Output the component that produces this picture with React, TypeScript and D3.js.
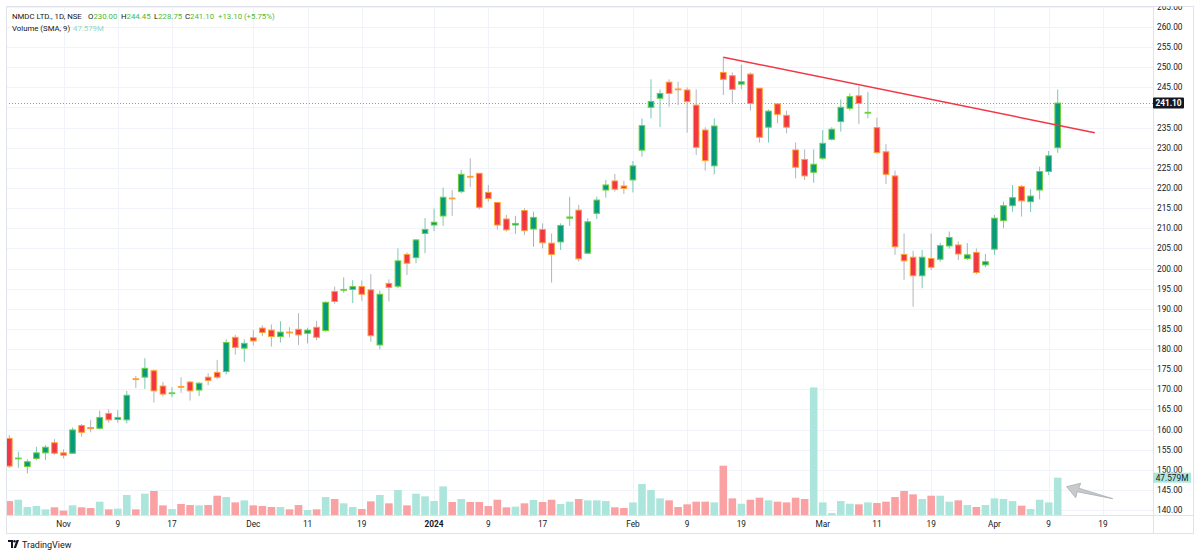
import React from "react";
import * as d3 from "d3";

// ---- Data (NMDC LTD., 1D, NSE) : bars from 23 Oct 2023 to 10 Apr 2024 ----
const openP = [
  157.8, 152.7, 150.8, 152.8, 154.2, 156.7, 154.2, 154.1, 161.0, 160.5,
  160.3, 164.0, 162.5, 162.4, 172.6, 173.0, 174.6, 170.8, 168.9, 170.7,
  171.8, 169.8, 173.0, 174.2, 174.4, 182.9, 180.2, 182.8, 185.2, 184.7,
  183.1, 184.2, 184.9, 183.9, 185.4, 184.6, 194.3, 194.6, 194.8, 195.5,
  194.7, 181.0, 196.3, 195.6, 203.5, 202.7, 208.7, 210.8, 213.05, 217.5,
  219.1, 222.9, 223.65, 218.9, 216.4, 212.3, 210.8, 214.4, 209.8, 209.7,
  206.3, 206.6, 212.5, 214.5, 203.8, 213.7, 219.5, 221.75, 220.5, 222.0,
  229.4, 240.05, 242.3, 246.3, 244.6, 244.35, 240.6, 234.4, 225.5, 248.7,
  247.9, 245.8, 248.3, 244.8, 235.1, 240.9, 238.05, 229.45, 227.1, 223.9,
  227.4, 232.1, 236.5, 239.8, 242.9, 238.6, 235.0, 229.0, 223.0, 203.5,
  202.8, 198.2, 202.5, 202.3, 205.6, 205.85, 202.5, 204.0, 200.9, 204.8,
  211.9, 215.6, 220.35, 216.6, 219.5, 224.1, 230.0,
];
const highP = [
  158.6, 154.5, 152.6, 155.7, 156.1, 157.6, 155.1, 160.5, 161.4, 162.4,
  164.7, 165.0, 164.8, 169.6, 173.3, 177.7, 174.9, 171.8, 170.5, 173.0,
  172.1, 171.8, 174.0, 177.3, 182.4, 183.5, 182.4, 184.7, 185.9, 186.1,
  186.9, 185.4, 188.9, 185.3, 187.0, 191.8, 195.5, 197.8, 197.1, 197.0,
  198.6, 194.5, 197.3, 205.0, 204.0, 207.3, 212.5, 214.9, 220.1, 219.5,
  224.5, 227.4, 223.65, 220.75, 216.4, 213.3, 213.1, 214.95, 214.1, 211.2,
  208.7, 211.2, 217.8, 215.8, 212.5, 217.85, 222.0, 223.5, 221.8, 226.7,
  237.3, 247.0, 244.5, 247.0, 246.4, 245.0, 244.5, 235.1, 237.3, 252.5,
  248.7, 250.6, 248.7, 244.8, 239.5, 240.9, 239.2, 231.3, 229.6, 229.6,
  234.4, 235.1, 242.0, 243.5, 245.3, 243.9, 237.5, 230.9, 224.3, 208.7,
  204.4, 204.6, 208.7, 206.4, 209.2, 206.7, 206.3, 205.0, 203.6, 213.3,
  216.6, 220.75, 220.75, 219.7, 225.3, 229.2, 244.45,
];
const lowP = [
  150.5, 150.5, 149.1, 152.4, 152.4, 153.7, 152.8, 153.9, 158.2, 159.3,
  160.0, 161.7, 161.7, 161.5, 170.3, 170.1, 166.7, 168.2, 168.0, 169.1,
  167.2, 168.3, 171.0, 172.5, 173.7, 178.6, 176.8, 180.9, 183.2, 180.6,
  181.6, 182.9, 181.0, 181.4, 182.2, 184.3, 191.2, 194.0, 191.4, 192.0,
  181.8, 179.9, 191.8, 195.1, 198.4, 201.3, 203.8, 209.3, 210.6, 213.05,
  218.7, 220.2, 214.7, 216.6, 209.7, 209.2, 208.6, 208.3, 205.4, 205.0,
  196.5, 204.6, 210.6, 201.7, 203.6, 212.3, 217.6, 219.1, 218.5, 218.9,
  227.8, 237.3, 235.1, 240.2, 240.6, 233.75, 228.2, 224.3, 223.4, 243.1,
  241.2, 244.6, 239.2, 231.3, 231.3, 236.1, 233.6, 222.4, 222.0, 221.3,
  227.0, 231.8, 234.0, 239.2, 235.9, 237.3, 228.5, 221.0, 203.4, 197.2,
  190.5, 195.1, 199.6, 201.7, 204.9, 202.1, 202.1, 198.6, 200.3, 203.4,
  210.0, 214.1, 212.9, 214.0, 217.2, 223.2, 228.75,
];
const closeP = [
  150.9, 152.9, 152.0, 154.2, 155.6, 154.1, 153.6, 159.9, 159.3, 160.2,
  163.0, 162.4, 163.0, 168.5, 172.4, 175.2, 169.6, 168.8, 169.1, 170.5,
  169.6, 171.5, 172.2, 173.0, 181.6, 180.4, 181.4, 182.0, 184.1, 183.1,
  184.2, 184.0, 183.5, 184.7, 182.9, 191.6, 191.8, 194.8, 195.5, 193.6,
  183.3, 193.6, 195.3, 201.9, 201.3, 207.1, 209.7, 211.5, 217.7, 217.3,
  223.4, 222.7, 215.2, 217.4, 210.8, 209.6, 211.2, 209.4, 212.7, 206.4,
  203.5, 210.7, 212.8, 202.4, 211.6, 217.0, 220.75, 219.7, 219.9, 225.5,
  235.5, 241.5, 243.5, 243.5, 244.4, 241.45, 230.1, 226.8, 235.4, 247.0,
  244.5, 246.4, 241.0, 232.6, 239.1, 238.3, 235.1, 225.15, 223.0, 225.9,
  231.1, 234.6, 240.05, 242.7, 241.0, 238.8, 228.8, 223.4, 205.4, 201.9,
  198.2, 202.8, 200.3, 205.7, 207.7, 203.6, 203.4, 199.0, 201.7, 212.5,
  215.6, 217.6, 216.8, 218.0, 224.1, 228.0, 241.1,
];
// volume in millions of shares
const volumeM = [
  17.8, 19.5, 10.2, 11.5, 7.2, 9.8, 5.5, 12.3, 9.8, 8.9,
  17.0, 7.2, 8.1, 25.5, 7.2, 27.2, 30.6, 12.3, 7.6, 14.0,
  12.7, 12.3, 12.7, 24.6, 22.9, 16.1, 18.7, 12.3, 11.5, 10.2,
  10.2, 7.2, 12.7, 6.4, 7.2, 22.9, 20.4, 14.9, 10.2, 7.6,
  17.4, 25.5, 14.9, 31.9, 12.3, 27.2, 23.8, 17.8, 36.5, 16.6,
  20.4, 16.6, 16.6, 11.5, 19.5, 9.8, 10.6, 14.9, 19.1, 16.6,
  19.5, 14.0, 17.0, 20.4, 18.7, 18.7, 17.8, 9.8, 8.9, 16.1,
  39.5, 31.9, 21.2, 18.7, 10.2, 13.6, 17.0, 17.0, 16.1, 62.9,
  21.2, 14.4, 19.5, 22.1, 18.7, 17.0, 16.1, 22.1, 20.4, 162.7,
  16.1, 2.5, 17.8, 14.4, 13.6, 16.1, 15.3, 17.0, 22.9, 30.6,
  26.3, 20.4, 24.6, 24.6, 17.0, 18.7, 12.7, 10.2, 12.7, 21.2,
  20.4, 17.8, 11.9, 7.6, 19.5, 16.1, 47.579,
];

// time axis labels: bar index -> label
const tickIndex = [6, 12, 18, 27, 33, 39, 47, 53, 59, 69, 75, 81, 90, 96, 102, 109, 115, 121];
const tickLabel = ["Nov", "9", "17", "Dec", "11", "19", "2024", "9", "17", "Feb", "9", "19", "Mar", "11", "19", "Apr", "9", "19"];

// price axis levels
const priceTicks = d3.range(140, 266, 5);

// trend line (bar index, price)
const trendIdx = [79, 120.1];
const trendPrice = [252.5, 233.75];

const lastPrice = 241.1;
const lastVolume = 47.579;

// ---- Layout ----
const W = 1200;
const H = 556;
const plotLeft = 6;
const plotRight = 1153;
const plotTop = 6;
const plotBottom = 515;
const frameRight = 1193;
const frameBottom = 533;

const FONT = "Roboto, 'Noto Sans', Arial, sans-serif";
const UP = "#089981";
const UP_BORDER = "#6fd13a";
const UP_WICK = "#7cc7b4";
const DOWN = "#f23645";
const DOWN_BORDER = "#ffa033";
const DOWN_WICK = "#b2b5be";
const VOL_UP = "#ace5dc";
const VOL_DOWN = "#faa1a4";
const GRID = "#f0f3fa";
const TEXT = "#131722";
const LEG_GREEN = "#4fb834";

export default function App() {
  const x = d3.scaleLinear().domain([0, 116]).range([9.3, 9.3 + 116 * 9.038]);
  const y = d3.scaleLinear().domain([140, 260]).range([510, 27]);
  const yv = d3.scaleLinear().domain([0, lastVolume]).range([plotBottom, 477.7]);

  const bars = openP.map((o, i) => ({
    i,
    o,
    h: highP[i],
    l: lowP[i],
    c: closeP[i],
    v: volumeM[i],
    up: closeP[i] >= o,
  }));

  const trendLine = d3
    .line<number>()
    .x((d, k) => x(trendIdx[k]))
    .y((d) => y(d))(trendPrice);

  const bodyW = 5.6;
  const volW = 7.6;

  const lastX = x(bars.length - 1);
  const ax = lastX + 9;
  const ay = yv(lastVolume) + 9;
  const arrowPts = [
    [ax, ay],
    [ax + 14, ay - 3.5],
    [ax + 12, ay + 1.5],
    [ax + 46, ay + 12],
    [ax + 10.5, ay + 5],
    [ax + 9, ay + 11],
  ]
    .map((p) => p.join(","))
    .join(" ");

  // price labels hidden behind the last-price box are not drawn
  const visibleTicks = priceTicks.filter((p) => Math.abs(y(p) - y(lastPrice)) > 8);

  return (
    <svg width={W} height={H} style={{ display: "block", position: "absolute", left: 0, top: 0, background: "#fff" }} fontFamily={FONT}>
      <defs>
        <clipPath id="plot">
          <rect x={plotLeft} y={plotTop} width={plotRight - plotLeft} height={plotBottom - plotTop} />
        </clipPath>
        <clipPath id="axisClip">
          <rect x={plotRight} y={plotTop + 0.5} width={frameRight - plotRight} height={plotBottom - plotTop} />
        </clipPath>
      </defs>
      <rect x={0} y={0} width={W} height={H} fill="#fff" />

      {/* grid */}
      <g clipPath="url(#plot)">
        {priceTicks.map((p) => (
          <line key={"h" + p} x1={plotLeft} x2={plotRight} y1={Math.round(y(p)) + 0.5} y2={Math.round(y(p)) + 0.5} stroke={GRID} />
        ))}
        {tickIndex.map((t) => (
          <line key={"v" + t} x1={Math.round(x(t)) + 0.5} x2={Math.round(x(t)) + 0.5} y1={plotTop} y2={plotBottom} stroke={GRID} />
        ))}
      </g>

      {/* volume */}
      <g clipPath="url(#plot)">
        {bars.map((b) => (
          <rect
            key={"v" + b.i}
            x={x(b.i) - volW / 2}
            y={yv(b.v)}
            width={volW}
            height={plotBottom - yv(b.v)}
            fill={b.up ? VOL_UP : VOL_DOWN}
          />
        ))}
      </g>

      {/* last price dotted line */}
      <line x1={plotLeft} x2={plotRight} y1={Math.round(y(lastPrice)) + 0.5} y2={Math.round(y(lastPrice)) + 0.5} stroke="#9598a1" strokeDasharray="1 2" />

      {/* candles */}
      <g clipPath="url(#plot)">
        {bars.map((b) => {
          const cx = x(b.i);
          const top = y(Math.max(b.o, b.c));
          const bot = y(Math.min(b.o, b.c));
          const hgt = Math.max(bot - top, 0.6);
          return (
            <g key={"c" + b.i}>
              <line x1={cx} x2={cx} y1={y(b.h)} y2={y(b.l)} stroke={b.up ? UP_WICK : DOWN_WICK} strokeWidth={1} />
              <rect
                x={cx - bodyW / 2}
                y={top}
                width={bodyW}
                height={hgt}
                fill={b.up ? UP : DOWN}
                stroke={b.up ? UP_BORDER : DOWN_BORDER}
                strokeWidth={1}
              />
            </g>
          );
        })}
      </g>

      {/* trend line */}
      <path d={trendLine || ""} fill="none" stroke="#f23645" strokeWidth={1.5} clipPath="url(#plot)" />

      {/* arrow annotation */}
      <polygon points={arrowPts} fill="#c9cace" stroke="#a9abb0" strokeWidth={0.8} strokeLinejoin="round" />

      {/* frame and axes */}
      <rect x={plotLeft + 0.5} y={plotTop + 0.5} width={frameRight - plotLeft} height={frameBottom - plotTop} fill="none" stroke="#e0e3eb" />
      <line x1={plotRight + 0.5} x2={plotRight + 0.5} y1={plotTop} y2={frameBottom} stroke="#e0e3eb" />
      <line x1={plotLeft} x2={frameRight} y1={plotBottom + 0.5} y2={plotBottom + 0.5} stroke="#e0e3eb" />

      {/* price axis labels */}
      <g clipPath="url(#axisClip)">
        {visibleTicks.map((p) => (
          <text key={"pl" + p} x={plotRight + 4} y={y(p) + 3} fontSize={8.3} fill={TEXT}>
            {p.toFixed(2)}
          </text>
        ))}
      </g>

      {/* last price label */}
      <rect x={plotRight} y={y(lastPrice) - 5.5} width={31} height={11} fill="#131722" rx={1} />
      <text x={plotRight + 15.5} y={y(lastPrice) + 3} fontSize={8.3} fontWeight="bold" fill="#fff" textAnchor="middle">
        {lastPrice.toFixed(2)}
      </text>

      {/* volume label */}
      <rect x={plotRight} y={yv(lastVolume) - 5} width={38} height={10} fill={VOL_UP} />
      <text x={plotRight + 19} y={yv(lastVolume) + 3} fontSize={8.3} fill={TEXT} textAnchor="middle">
        {lastVolume.toFixed(3) + "M"}
      </text>

      {/* time axis labels */}
      {tickIndex.map((t, k) => (
        <text
          key={"tl" + t}
          x={x(t)}
          y={526.5}
          fontSize={8.3}
          fill={TEXT}
          textAnchor="middle"
          fontWeight={tickLabel[k] === "2024" ? "bold" : "normal"}
        >
          {tickLabel[k]}
        </text>
      ))}

      {/* legend */}
      <g fontSize={7.8} fill={TEXT}>
        <text x={12} y={19}>NMDC LTD., 1D, NSE</text>
        <text x={88} y={19}>
          O<tspan fill={LEG_GREEN}>{openP[116].toFixed(2)}</tspan>
        </text>
        <text x={121} y={19}>
          H<tspan fill={LEG_GREEN}>{highP[116].toFixed(2)}</tspan>
        </text>
        <text x={154} y={19}>
          L<tspan fill={LEG_GREEN}>{lowP[116].toFixed(2)}</tspan>
        </text>
        <text x={185} y={19}>
          C<tspan fill={LEG_GREEN}>{closeP[116].toFixed(2)}</tspan>
        </text>
        <text x={218} y={19} fill={LEG_GREEN}>
          +13.10 (+5.75%)
        </text>
        <text x={12} y={30.5}>Volume (SMA, 9)</text>
        <text x={73} y={30.5} fill="#8fd6c9">
          {lastVolume.toFixed(3) + "M"}
        </text>
      </g>

      {/* TradingView logo */}
      <g transform="translate(8,540)">
        <path d="M0 0 H5 V8 H3 V2 H0 Z" fill="#131722" />
        <circle cx={6.5} cy={1.2} r={1.2} fill="#131722" />
        <path d="M8.5 0 H11 L8 8 H5.7 Z" fill="#131722" />
        <text x={14} y={7.8} fontSize={9} fill="#131722">TradingView</text>
      </g>
    </svg>
  );
}
